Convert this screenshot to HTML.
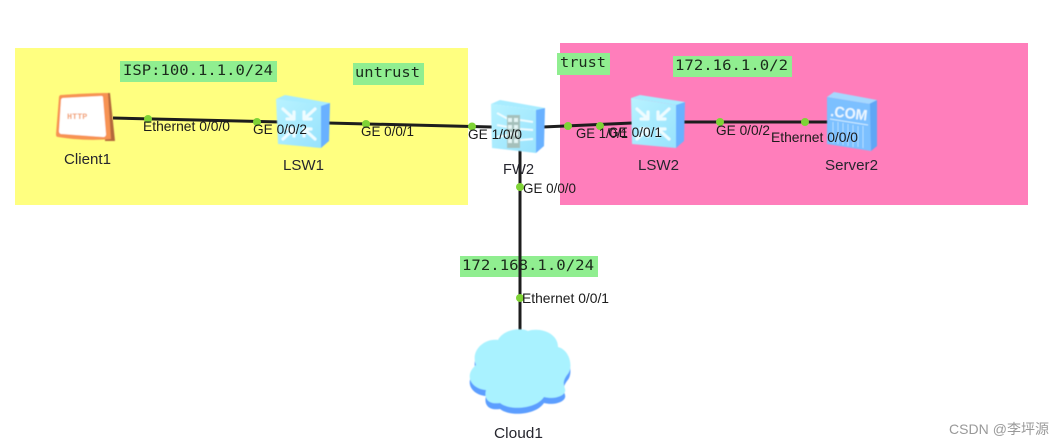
<!DOCTYPE html>
<html><head><meta charset="utf-8"><style>
html,body{margin:0;padding:0;background:#fff;width:1064px;height:446px;overflow:hidden}
svg{display:block}
.l{font-family:"Liberation Sans",sans-serif;font-size:14px;fill:#1a1a1a}
.n{font-family:"Liberation Sans",sans-serif;font-size:15px;fill:#26262e}
.m{font-family:"DejaVu Sans Mono",monospace;font-size:14.500px;fill:#1a2a1a}
</style></head><body>
<svg width="1064" height="446" viewBox="0 0 1064 446" xmlns="http://www.w3.org/2000/svg">
<defs>
<filter id="b" x="-10%" y="-10%" width="120%" height="120%"><feGaussianBlur stdDeviation="0.6"/></filter>
<filter id="t" x="-5%" y="-20%" width="110%" height="140%"><feGaussianBlur stdDeviation="0.35"/></filter>
<linearGradient id="sw" x1="0" y1="0" x2="1" y2="1"><stop offset="0" stop-color="#b8f3ff"/><stop offset="1" stop-color="#98e2fd"/></linearGradient>
<g id="ar" stroke="#eefcff" stroke-width="3.200" fill="none" stroke-linecap="round" stroke-linejoin="round">
<path d="M-16,-15 L-5,-5 M-5,-12 L-5,-5 L-12,-5"/>
<path d="M16,-15 L5,-5 M5,-12 L5,-5 L12,-5"/>
<path d="M-16,15 L-5,5 M-12,5 L-5,5 L-5,12"/>
<path d="M16,15 L5,5 M12,5 L5,5 L5,12"/>
</g>
</defs>
<rect x="15" y="48" width="453" height="157" fill="#ffff80"/>
<rect x="560" y="43" width="468" height="162" fill="#ff7ebb"/>

<rect x="120" y="61" width="157" height="21" fill="#90ee90"/>
<text class="m" x="123" y="75" textLength="150" lengthAdjust="spacingAndGlyphs" filter="url(#t)">ISP:100.1.1.0/24</text>
<rect x="353" y="63" width="71" height="22" fill="#90ee90"/>
<text class="m" x="355" y="77" textLength="65" lengthAdjust="spacingAndGlyphs" filter="url(#t)">untrust</text>
<rect x="557" y="53" width="53" height="22" fill="#90ee90"/>
<text class="m" x="560" y="67" textLength="46" lengthAdjust="spacingAndGlyphs" filter="url(#t)">trust</text>
<rect x="673" y="56" width="119" height="21" fill="#90ee90"/>
<text class="m" x="675" y="70" textLength="113" lengthAdjust="spacingAndGlyphs" filter="url(#t)">172.16.1.0/2</text>
<rect x="460" y="256" width="138" height="21" fill="#90ee90"/>

<g stroke="#1d1d1d" stroke-width="3" fill="none">
<path d="M113,118 L280,122"/>
<path d="M328,123 L492,127"/>
<path d="M543,127 L632,123"/>
<path d="M683,122 L828,122"/>
<path d="M520,150 L520,335"/>
</g>
<text class="m" x="462" y="270" textLength="132" lengthAdjust="spacingAndGlyphs" filter="url(#t)">172.168.1.0/24</text>

<g filter="url(#b)">
<!-- Client -->
<path d="M104,93 L110,93 L115,141 L105,141 Z" fill="#b4683a"/>
<path d="M61,95 C75,94 95,93 108,93 L111,139 C90,141 70,139 58,137 C56,137 56,135 56,134 L59,97 C59,96 60,95 61,95 Z" fill="#f79352"/>
<path d="M63,98 L101,96 C103,96 103,97 103,98 L106,134 C106,136 105,137 103,137 L62,134 C60,134 59,133 59,131 L61,100 C61,99 62,98 63,98 Z" fill="#fff"/>
<text x="67" y="119" font-family="Liberation Mono,monospace" font-size="8.500" font-weight="bold" fill="#f2a070">HTTP</text>

<!-- LSW1 -->
<path d="M321,104 L330,103 L329,141 L321,148 Z" fill="#69b1ff"/>
<path d="M285,95 L330,103 L321,106 L276,99 Z" fill="#a8ecff"/>
<path d="M276,99 L321,105 L321,148 L278,144 Z" fill="url(#sw)"/>
<use href="#ar" x="299" y="124"/>

<!-- LSW2 -->
<path d="M676,103 L685,102 L684,141 L676,148 Z" fill="#69b1ff"/>
<path d="M640,95 L685,102 L676,105 L631,98 Z" fill="#a8ecff"/>
<path d="M631,98 L676,105 L676,148 L632,144 Z" fill="url(#sw)"/>
<use href="#ar" x="653" y="124"/>

<!-- FW2 -->
<path d="M536,109 L545,108 L544,146 L536,153 Z" fill="#69b1ff"/>
<path d="M500,100 L545,108 L536,110 L491,104 Z" fill="#a8ecff"/>
<path d="M491,104 L536,110 L536,153 L492,148 Z" fill="url(#sw)"/>
<g stroke="#eefcff" stroke-width="2" fill="none"><path d="M497,113 L508,119 M497,125 L508,127 M497,137 L508,135 M520,120 L533,122 M520,129 L533,130 M520,140 L533,139"/></g>
<rect x="507" y="115" width="13" height="33" fill="#a5c0bb"/>
<g fill="#e4f5f5"><rect x="508" y="118" width="4" height="4"/><rect x="514" y="118" width="4" height="4"/><rect x="508" y="125" width="4" height="4"/><rect x="514" y="125" width="4" height="4"/><rect x="508" y="132" width="4" height="4"/><rect x="514" y="132" width="4" height="4"/><rect x="508" y="139" width="4" height="4"/><rect x="514" y="139" width="4" height="4"/></g>

<!-- Server -->
<path d="M869,103 L877,100 L877,146 L871,151 Z" fill="#5ea6f5"/>
<path d="M834,92 L877,100 L869,104 L827,97 Z" fill="#a6d8ff"/>
<path d="M827,97 L870,104 L871,151 L827,144 Z" fill="#7cc0ff"/>
<text x="830" y="116" transform="rotate(7 830 116)" font-family="Liberation Sans,sans-serif" font-size="15" font-weight="bold" fill="#eef8ff" textLength="37" lengthAdjust="spacingAndGlyphs">.COM</text>
<path d="M830,119 L868,125" stroke="#d5eeff" stroke-width="1"/>
<g stroke="#b4dcff" stroke-width="1"><path d="M833,122 V143 M838,122 V144 M843,123 V145 M848,124 V146 M853,125 V147 M858,126 V147 M863,126 V148"/></g>

<!-- Cloud -->
<path d="M498,340 C503,330 520,327 528,331 C540,327 558,333 558,347 C570,350 574,368 567,375 C562,382 564,385 565,389 C567,395 555,400 544,397 C536,409 510,411 500,403 C487,405 484,397 486,390 C472,389 463,376 476,365 C470,350 485,338 498,340 Z" fill="#5b9eff" transform="translate(0,6)"/>
<path d="M498,340 C503,330 520,327 528,331 C540,327 558,333 558,347 C570,350 574,368 567,375 C562,382 564,385 565,389 C567,395 555,400 544,397 C536,409 510,411 500,403 C487,405 484,397 486,390 C472,389 463,376 476,365 C470,350 485,338 498,340 Z" fill="#a9f2ff"/>
</g>

<g fill="#7fd336">
<circle cx="148" cy="119" r="4"/><circle cx="257" cy="122" r="4"/><circle cx="366" cy="124" r="4"/><circle cx="472" cy="126.500" r="4"/><circle cx="568" cy="126" r="4"/><circle cx="600" cy="126" r="4"/><circle cx="720" cy="122" r="4"/><circle cx="805" cy="122" r="4"/><circle cx="520" cy="187" r="4"/><circle cx="520" cy="298" r="4"/>
</g>

<g filter="url(#t)">
<text class="l" x="143" y="131" textLength="87" lengthAdjust="spacingAndGlyphs">Ethernet 0/0/0</text>
<text class="l" x="253" y="134" textLength="54" lengthAdjust="spacingAndGlyphs">GE 0/0/2</text>
<text class="l" x="361" y="136" textLength="53" lengthAdjust="spacingAndGlyphs">GE 0/0/1</text>
<text class="l" x="468" y="139" textLength="54" lengthAdjust="spacingAndGlyphs">GE 1/0/0</text>
<text class="l" x="576" y="138" textLength="52" lengthAdjust="spacingAndGlyphs">GE 1/0/1</text>
<text class="l" x="608" y="137" textLength="54" lengthAdjust="spacingAndGlyphs">GE 0/0/1</text>
<text class="l" x="716" y="135" textLength="54" lengthAdjust="spacingAndGlyphs">GE 0/0/2</text>
<text class="l" x="771" y="142" textLength="87" lengthAdjust="spacingAndGlyphs">Ethernet 0/0/0</text>
<text class="l" x="523" y="193" textLength="53" lengthAdjust="spacingAndGlyphs">GE 0/0/0</text>
<text class="l" x="522" y="303" textLength="87" lengthAdjust="spacingAndGlyphs">Ethernet 0/0/1</text>
<text class="n" x="64" y="164" textLength="47" lengthAdjust="spacingAndGlyphs">Client1</text>
<text class="n" x="283" y="170" textLength="41" lengthAdjust="spacingAndGlyphs">LSW1</text>
<text class="n" x="503" y="174" textLength="31" lengthAdjust="spacingAndGlyphs">FW2</text>
<text class="n" x="638" y="170" textLength="41" lengthAdjust="spacingAndGlyphs">LSW2</text>
<text class="n" x="825" y="170" textLength="53" lengthAdjust="spacingAndGlyphs">Server2</text>
<text class="n" x="494" y="438" textLength="49" lengthAdjust="spacingAndGlyphs">Cloud1</text>
</g>
<text x="949" y="434" font-family="Liberation Sans,'Noto Sans CJK SC',sans-serif" font-size="14" fill="#999" textLength="100" filter="url(#t)">CSDN @李坪源</text>
</svg>
</body></html>
